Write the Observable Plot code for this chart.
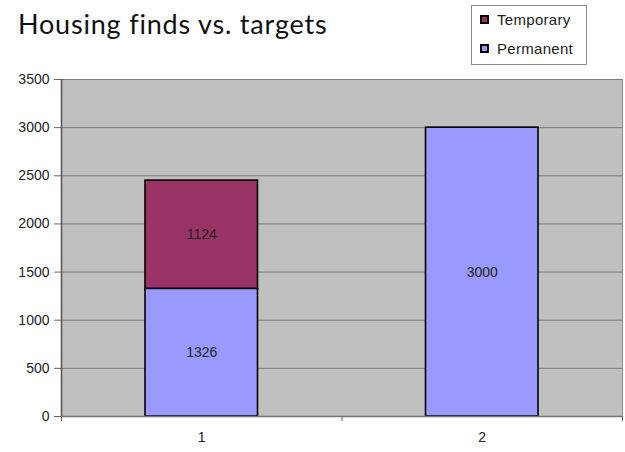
<!DOCTYPE html>
<html>
<head>
<meta charset="utf-8">
<script src="https://cdn.jsdelivr.net/npm/d3@7"></script>
<script src="https://cdn.jsdelivr.net/npm/@observablehq/plot@0.6"></script>
<style>
  html, body { margin: 0; padding: 0; background: #fff; }
  #wrap { position: relative; width: 625px; height: 452px; overflow: hidden; }
  #title { position: absolute; left: 18px; top: 7px; font-family: Lato, "Open Sans", sans-serif; font-size: 27px; letter-spacing: 0.8px; color: #111; white-space: nowrap; }
  #legend { position: absolute; left: 471px; top: 5px; width: 114px; height: 58px; border: 1px solid #8a8a8a; background: #fff; font-family: "Liberation Sans", Arial, sans-serif; font-size: 15px; letter-spacing: 0.3px; color: #222; }
  .item { position: absolute; left: 8px; display: flex; align-items: center; white-space: nowrap; }
  .sw { width: 5px; height: 5px; border: 2px solid #000; margin-right: 8px; }
</style>
</head>
<body>
<div id="wrap">
  <div id="chart"></div>
  <div id="title">Housing finds vs. targets</div>
  <div id="legend"></div>
</div>
<script>
// Data
const categories = ["1", "2"];
const seriesNames = ["Permanent", "Temporary"];   // stacking order, bottom to top
const permanentValues = [1326, 3000];
const temporaryValues = [1124, 0];
const yTicks = [0, 500, 1000, 1500, 2000, 2500, 3000, 3500];
const legendOrder = ["Temporary", "Permanent"];
const seriesColors = {Permanent: "#9999ff", Temporary: "#993366"};

// Build stacked rows
const valuesBySeries = {Permanent: permanentValues, Temporary: temporaryValues};
const rows = [];
categories.forEach((cat, i) => {
  let base = 0;
  for (const s of seriesNames) {
    const v = valuesBySeries[s][i];
    if (v > 0) {
      rows.push({i, cat, series: s, value: v, y1: base, y2: base + v});
      base += v;
    }
  }
});

const chart = Plot.plot({
  width: 625,
  height: 452,
  marginLeft: 61,
  marginRight: 3,
  marginTop: 79,
  marginBottom: 36,
  style: {fontFamily: "'Liberation Sans', Arial, sans-serif", background: "transparent", color: "#222"},
  x: {type: "linear", domain: [0, categories.length]},
  y: {domain: [0, 3500]},
  marks: [
    Plot.frame({fill: "#c0c0c0", stroke: "#8a8a8a"}),
    Plot.ruleY(yTicks, {stroke: "#7a7a7a", strokeWidth: 1}),
    Plot.rect(rows, {
      x1: d => d.i, x2: d => d.i + 1, y1: "y1", y2: "y2",
      insetLeft: 84, insetRight: 84,
      fill: d => seriesColors[d.series], stroke: "#000", strokeWidth: 1.6
    }),
    Plot.text(rows, {
      x: d => d.i + 0.5, y: d => (d.y1 + d.y2) / 2, text: d => String(d.value),
      fontSize: 14, fill: "#222"
    }),
    Plot.axisY({ticks: yTicks, tickSize: 7, tickPadding: 5, fontSize: 14, stroke: "#666", tickFormat: d => String(d)}),
    Plot.axisX({ticks: d3.range(categories.length + 1), tickSize: 5, tickFormat: () => "", stroke: "#666"}),
    Plot.axisX({ticks: categories.map((c, i) => i + 0.5), tickSize: 0, tickPadding: 16, fontSize: 14, tickFormat: d => categories[Math.floor(d)]}),
    Plot.ruleX([0], {stroke: "#555", strokeWidth: 1.5}),
    Plot.ruleY([0], {stroke: "#777", strokeWidth: 1.5})
  ]
});
document.getElementById("chart").appendChild(chart);

// Legend
const legend = document.getElementById("legend");
legendOrder.forEach((s, k) => {
  const item = document.createElement("div");
  item.className = "item";
  item.style.top = (5 + k * 29) + "px";
  const sw = document.createElement("div");
  sw.className = "sw";
  sw.style.background = seriesColors[s];
  const lab = document.createElement("span");
  lab.textContent = s;
  item.appendChild(sw);
  item.appendChild(lab);
  legend.appendChild(item);
});
</script>
</body>
</html>
